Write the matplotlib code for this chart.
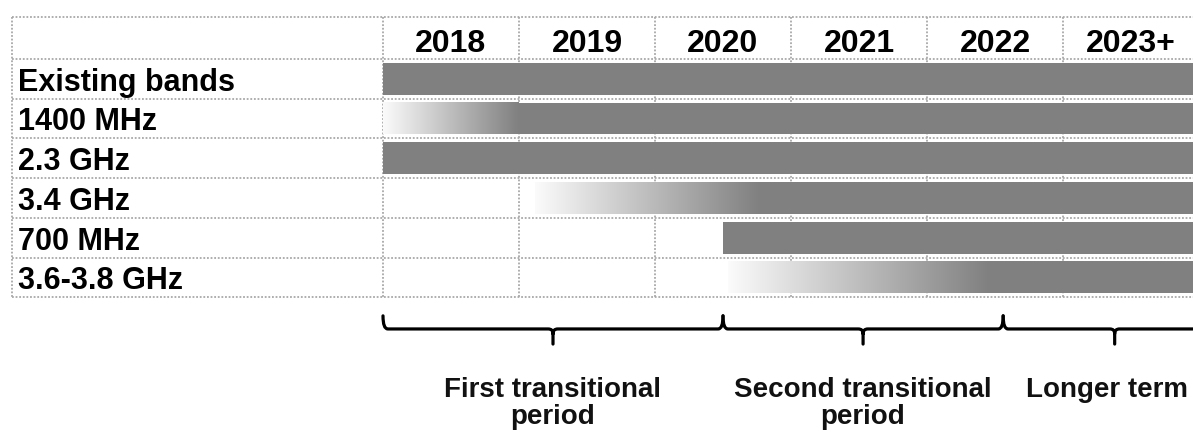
import numpy as np
import matplotlib
matplotlib.use("Agg")
import matplotlib.pyplot as plt
from matplotlib.path import Path
from matplotlib.patches import PathPatch, Rectangle
from matplotlib.colors import LinearSegmentedColormap

# ---------------- data ----------------
years = ["2018", "2019", "2020", "2021", "2022", "2023+"]
bands = ["Existing bands", "1400 MHz", "2.3 GHz", "3.4 GHz", "700 MHz", "3.6-3.8 GHz"]
# start of fade-in (None = no fade) and start of full availability, in years from start of 2018
fade_start = [None, 0.0, None, 1.12, None, 2.54]
full_start = [0.0, 1.0, 0.0, 2.77, 2.5, 4.46]
periods = ["First transitional\nperiod", "Second transitional\nperiod", "Longer term"]
period_bounds = [0.0, 2.5, 4.56, 6.2]

# ---------------- style ----------------
plt.rcParams['font.family'] = ['Liberation Sans', 'DejaVu Sans']
BAR = '#808080'
GRID = '#a8a8a8'
W, H, DPI = 1193, 432, 100
colw = 136.0
rowh = 39.7
x0px, y0px = 383.0, 59.0

fig = plt.figure(figsize=(W / DPI, H / DPI), dpi=DPI)
ax = fig.add_axes([0, 0, 1, 1])
ax.set_xlim(-x0px / colw, (W - x0px) / colw)
ax.set_ylim((H - y0px) / rowh, -y0px / rowh)
ax.axis('off')

n = len(bands)
left = (12 - x0px) / colw
top = (17 - y0px) / rowh
right_end = 6.3
xmax_text = (1188 - x0px) / colw

# grid
for yy in [top] + list(range(0, n + 1)):
    ax.plot([left, right_end], [yy, yy], color=GRID, lw=1.3, ls=(0, (1, 1)), zorder=1)
for xx in [left] + list(range(0, len(years) + 1)):
    ax.plot([xx, xx], [top, n], color=GRID, lw=1.3, ls=(0, (1, 1)), zorder=1)

# headers
for i, yr in enumerate(years):
    ax.text(i + 0.5, -0.18, yr, ha='center', va='baseline', fontsize=23,
            fontweight='bold', color='black', zorder=5)

cmap = LinearSegmentedColormap.from_list('fade', ['#fbfbfb', BAR])
grad = np.linspace(0, 1, 256).reshape(1, -1)
bh = 0.8
for i, name in enumerate(bands):
    ax.text(left + 0.045, i + 0.80, name, ha='left', va='baseline', fontsize=22,
            fontweight='bold', color='black', zorder=5)
    yb = i + 0.1
    fs = fade_start[i]
    if fs is not None:
        ax.imshow(grad, cmap=cmap, aspect='auto', interpolation='bilinear',
                  extent=(fs, full_start[i], yb + bh, yb), zorder=3)
    ax.add_patch(Rectangle((full_start[i], yb), right_end - full_start[i], bh,
                           facecolor=BAR, edgecolor='none', zorder=3))

# braces
ytop, ymid, ybot = 6.47, 6.80, 7.18
rx, ry = 0.035, 0.12
renderer = fig.canvas.get_renderer()
for k in range(len(periods)):
    a, b = period_bounds[k], period_bounds[k + 1]
    c = (a + b) / 2
    verts = [(a, ytop), (a, ymid), (a + rx, ymid),
             (c - rx, ymid), (c, ymid), (c, ymid + ry),
             (c, ybot), (c, ymid + ry), (c, ymid), (c + rx, ymid),
             (b - rx, ymid), (b, ymid), (b, ytop)]
    codes = [Path.MOVETO, Path.CURVE3, Path.CURVE3,
             Path.LINETO, Path.CURVE3, Path.CURVE3,
             Path.LINETO, Path.MOVETO, Path.CURVE3, Path.CURVE3,
             Path.LINETO, Path.CURVE3, Path.CURVE3]
    ax.add_patch(PathPatch(Path(verts, codes), facecolor='none', edgecolor='black',
                           lw=2.3, capstyle='round', joinstyle='round', zorder=4))
    for j, line in enumerate(periods[k].split('\n')):
        t = ax.text(c, 8.51 + j * 0.68, line, ha='center', va='baseline', fontsize=20,
                    fontweight='bold', color='#111111', zorder=5)
        bb = t.get_window_extent(renderer=renderer)
        half = bb.width / 2 / colw
        if c + half > xmax_text:
            t.set_x(xmax_text - half)

fig.savefig('out.png', dpi=DPI)
